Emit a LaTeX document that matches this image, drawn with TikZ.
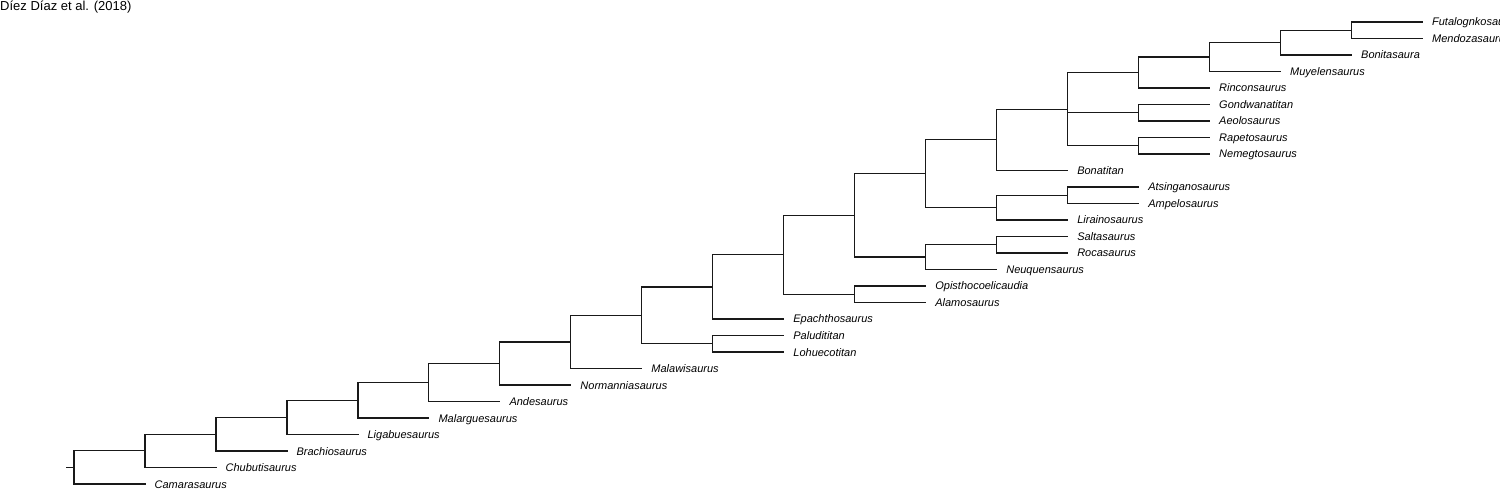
\documentclass[tikz,border=0pt]{standalone}
\usepackage{fontspec}
\setmainfont{Liberation Sans}
\begin{document}
\begin{tikzpicture}[x=1pt,y=-1pt,
  edge/.style={line width=1.25pt, line cap=rect, draw=black!90},
  lab/.style={anchor=base west, inner sep=0pt, font=\fontsize{11}{13}\selectfont\itshape},
  ttl/.style={anchor=base west, inner sep=0pt, font=\fontsize{13}{15}\selectfont}]
\useasboundingbox (0,0) rectangle (1500,489);
\clip (0,0) rectangle (1500,489);
\def\dx{70.97}
\newcommand\mkcoord[3]{\coordinate (#1) at ({74+#2*\dx},#3);}
\newcommand\mkleaf[4]{\coordinate (#1) at ({74+#2*\dx},#3); \node[lab] (#1l) at ([xshift=9.5pt,yshift=-4pt]#1) {#4};}

\node[ttl] (title) at (0,10.5) {Díez Díaz et al. (2018)};

% leaves
\mkleaf{Fut}{19}{22}{Futalognkosaurus}
\mkleaf{Men}{19}{38.5}{Mendozasaurus}
\mkleaf{Bon}{18}{55}{Bonitasaura}
\mkleaf{Muy}{17}{71.5}{Muyelensaurus}
\mkleaf{Rin}{16}{88}{Rinconsaurus}
\mkleaf{Gon}{16}{104.5}{Gondwanatitan}
\mkleaf{Aeo}{16}{121}{Aeolosaurus}
\mkleaf{Rap}{16}{137.5}{Rapetosaurus}
\mkleaf{Nem}{16}{154}{Nemegtosaurus}
\mkleaf{Bot}{14}{170.5}{Bonatitan}
\mkleaf{Ats}{15}{187}{Atsinganosaurus}
\mkleaf{Amp}{15}{203.5}{Ampelosaurus}
\mkleaf{Lir}{14}{220}{Lirainosaurus}
\mkleaf{Sal}{14}{236.5}{Saltasaurus}
\mkleaf{Roc}{14}{253}{Rocasaurus}
\mkleaf{Neu}{13}{269.5}{Neuquensaurus}
\mkleaf{Opi}{12}{286}{Opisthocoelicaudia}
\mkleaf{Ala}{12}{302.5}{Alamosaurus}
\mkleaf{Epa}{10}{319}{Epachthosaurus}
\mkleaf{Pal}{10}{335.5}{Paludititan}
\mkleaf{Loh}{10}{352}{Lohuecotitan}
\mkleaf{Mal}{8}{368.5}{Malawisaurus}
\mkleaf{Nor}{7}{385}{Normanniasaurus}
\mkleaf{And}{6}{401.5}{Andesaurus}
\mkleaf{Mar}{5}{418}{Malarguesaurus}
\mkleaf{Lig}{4}{434.5}{Ligabuesaurus}
\mkleaf{Bra}{3}{451}{Brachiosaurus}
\mkleaf{Chu}{2}{467.5}{Chubutisaurus}
\mkleaf{Cam}{1}{484}{Camarasaurus}

% internal nodes
\mkcoord{N18}{18}{30.25}
\mkcoord{N17}{17}{42.625}
\mkcoord{N16}{16}{57.06}
\mkcoord{N15}{15}{72.53}
\mkcoord{NGA}{15}{112.75}
\mkcoord{NRN}{15}{145.75}
\mkcoord{N14}{14}{109.14}
\mkcoord{N13}{13}{139.82}
\mkcoord{NAA}{14}{195.25}
\mkcoord{NAAL}{13}{207.625}
\mkcoord{N12}{12}{173.72}
\mkcoord{NSR}{13}{244.75}
\mkcoord{NSRN}{12}{257.125}
\mkcoord{N11}{11}{215.42}
\mkcoord{NOA}{11}{294.25}
\mkcoord{N10}{10}{254.84}
\mkcoord{N9}{9}{286.92}
\mkcoord{NPL}{9}{343.75}
\mkcoord{N8}{8}{315.33}
\mkcoord{N7}{7}{341.92}
\mkcoord{N6}{6}{363.46}
\mkcoord{N5}{5}{382.48}
\mkcoord{N4}{4}{400.24}
\mkcoord{N3}{3}{417.37}
\mkcoord{N2}{2}{434.19}
\mkcoord{N1}{1}{450.84}
\mkcoord{N0}{0}{467.42}
\coordinate (root) at (67,467.42);

% edges
\draw[edge] (root) -- (N0);
\draw[edge] (N0) |- (Cam);
\draw[edge] (N0) |- (N1);
\draw[edge] (N1) |- (Chu);
\draw[edge] (N1) |- (N2);
\draw[edge] (N2) |- (Bra);
\draw[edge] (N2) |- (N3);
\draw[edge] (N3) |- (Lig);
\draw[edge] (N3) |- (N4);
\draw[edge] (N4) |- (Mar);
\draw[edge] (N4) |- (N5);
\draw[edge] (N5) |- (And);
\draw[edge] (N5) |- (N6);
\draw[edge] (N6) |- (Nor);
\draw[edge] (N6) |- (N7);
\draw[edge] (N7) |- (Mal);
\draw[edge] (N7) |- (N8);
\draw[edge] (N8) |- (N9);
\draw[edge] (N8) |- (NPL);
\draw[edge] (NPL) |- (Pal);
\draw[edge] (NPL) |- (Loh);
\draw[edge] (N9) |- (N10);
\draw[edge] (N9) |- (Epa);
\draw[edge] (N10) |- (N11);
\draw[edge] (N10) |- (NOA);
\draw[edge] (NOA) |- (Opi);
\draw[edge] (NOA) |- (Ala);
\draw[edge] (N11) |- (N12);
\draw[edge] (N11) |- (NSRN);
\draw[edge] (NSRN) |- (NSR);
\draw[edge] (NSRN) |- (Neu);
\draw[edge] (NSR) |- (Sal);
\draw[edge] (NSR) |- (Roc);
\draw[edge] (N12) |- (N13);
\draw[edge] (N12) |- (NAAL);
\draw[edge] (NAAL) |- (NAA);
\draw[edge] (NAAL) |- (Lir);
\draw[edge] (NAA) |- (Ats);
\draw[edge] (NAA) |- (Amp);
\draw[edge] (N13) |- (N14);
\draw[edge] (N13) |- (Bot);
\draw[edge] (N14) |- (N15);
\draw[edge] (N14) |- (NGA);
\draw[edge] (N14) |- (NRN);
\draw[edge] (NGA) |- (Gon);
\draw[edge] (NGA) |- (Aeo);
\draw[edge] (NRN) |- (Rap);
\draw[edge] (NRN) |- (Nem);
\draw[edge] (N15) |- (N16);
\draw[edge] (N15) |- (Rin);
\draw[edge] (N16) |- (N17);
\draw[edge] (N16) |- (Muy);
\draw[edge] (N17) |- (N18);
\draw[edge] (N17) |- (Bon);
\draw[edge] (N18) |- (Fut);
\draw[edge] (N18) |- (Men);
\end{tikzpicture}
\end{document}
